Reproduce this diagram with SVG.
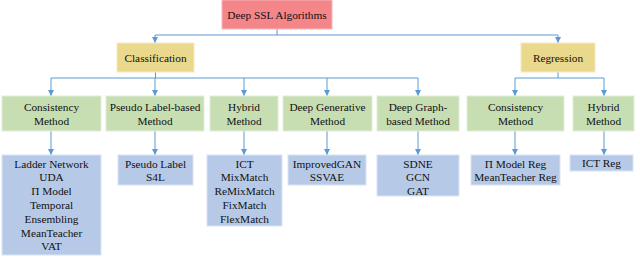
<svg xmlns="http://www.w3.org/2000/svg" width="640" height="258" viewBox="0 0 640 258">
<defs>
<marker id="ah" viewBox="0 0 6 6" refX="6" refY="3" markerWidth="6" markerHeight="6" markerUnits="userSpaceOnUse" orient="auto">
<path d="M0,0 L6,3 L0,6 z" fill="#5B9BD5"/>
</marker>
</defs>
<style>
text{font-family:"Liberation Serif","Times New Roman",serif;font-size:11.3px;fill:#111;text-anchor:middle}
.root{fill:#F4868A;stroke:#F7B7B9;stroke-width:1}
.cat{fill:#EAD98C;stroke:#F3EAC3;stroke-width:1}
.mth{fill:#C7DEB3;stroke:#E2EED8;stroke-width:1}
.alg{fill:#B6CAE8;stroke:#DAE4F3;stroke-width:1}
.ln{fill:none;stroke:#5B9BD5;stroke-width:1}
.ar{fill:none;stroke:#5B9BD5;stroke-width:1;marker-end:url(#ah)}
</style>
<g id="connectors">
<path class="ln" d="M277,29 V35 M155,35 H558"/>
<path class="ar" d="M155,35 V43"/>
<path class="ar" d="M558,35 V43"/>
<path class="ln" d="M155.5,72 V78 M51,78 H418"/>
<path class="ar" d="M51,78 V96"/>
<path class="ar" d="M155,78 V96"/>
<path class="ar" d="M244,78 V96"/>
<path class="ar" d="M327,78 V96"/>
<path class="ar" d="M418,78 V96"/>
<path class="ln" d="M558,72 V78 M515,78 H604"/>
<path class="ar" d="M515,78 V96"/>
<path class="ar" d="M604,78 V96"/>
<path class="ar" d="M51,131 V155"/>
<path class="ar" d="M155,131 V155"/>
<path class="ar" d="M244,131 V155"/>
<path class="ar" d="M327,131 V155"/>
<path class="ar" d="M418,131 V155"/>
<path class="ar" d="M515,131 V155"/>
<path class="ar" d="M604,131 V155"/>
</g>
<g id="root"><rect class="root" x="222" y="0" width="110" height="29"/><text x="277" y="19">Deep SSL Algorithms</text></g>
<g id="classification"><rect class="cat" x="117" y="43" width="77" height="29"/><text x="155.5" y="61.5">Classification</text></g>
<g id="regression"><rect class="cat" x="521" y="43" width="74" height="29"/><text x="558" y="61.5">Regression</text></g>

<g id="m-consistency"><rect class="mth" x="2" y="96" width="99" height="35"/><text x="51.5" y="111">Consistency</text><text x="51.5" y="124.5">Method</text></g>
<g id="m-pseudo"><rect class="mth" x="106" y="96" width="98" height="35"/><text x="155" y="111">Pseudo Label-based</text><text x="155" y="124.5">Method</text></g>
<g id="m-hybrid"><rect class="mth" x="210" y="96" width="68" height="35"/><text x="244" y="111">Hybrid</text><text x="244" y="124.5">Method</text></g>
<g id="m-generative"><rect class="mth" x="283" y="96" width="89" height="35"/><text x="327.5" y="111">Deep Generative</text><text x="327.5" y="124.5">Method</text></g>
<g id="m-graph"><rect class="mth" x="377" y="96" width="82" height="35"/><text x="418" y="111">Deep Graph-</text><text x="418" y="124.5">based Method</text></g>
<g id="m-reg-consistency"><rect class="mth" x="467" y="96" width="97" height="35"/><text x="515.5" y="111">Consistency</text><text x="515.5" y="124.5">Method</text></g>
<g id="m-reg-hybrid"><rect class="mth" x="573" y="96" width="61" height="35"/><text x="603.5" y="111">Hybrid</text><text x="603.5" y="124.5">Method</text></g>

<g id="a-consistency"><rect class="alg" x="2" y="155" width="99" height="100"/>
<text x="51.5" y="167.5">Ladder Network</text><text x="51.5" y="181.3">UDA</text><text x="51.5" y="195.1">Π Model</text><text x="51.5" y="208.9">Temporal</text><text x="51.5" y="222.7">Ensembling</text><text x="51.5" y="236.5">MeanTeacher</text><text x="51.5" y="250.3">VAT</text></g>
<g id="a-pseudo"><rect class="alg" x="118" y="155" width="75" height="30"/><text x="155.5" y="167.5">Pseudo Label</text><text x="155.5" y="181.3">S4L</text></g>
<g id="a-hybrid"><rect class="alg" x="207" y="155" width="75" height="71"/>
<text x="244.5" y="167.5">ICT</text><text x="244.5" y="181.3">MixMatch</text><text x="244.5" y="195.1">ReMixMatch</text><text x="244.5" y="208.9">FixMatch</text><text x="244.5" y="222.7">FlexMatch</text></g>
<g id="a-generative"><rect class="alg" x="288" y="155" width="78" height="30"/><text x="327" y="167.5">ImprovedGAN</text><text x="327" y="181.3">SSVAE</text></g>
<g id="a-graph"><rect class="alg" x="377" y="155" width="82" height="41"/><text x="418" y="167.5">SDNE</text><text x="418" y="181.3">GCN</text><text x="418" y="195.1">GAT</text></g>
<g id="a-reg-consistency"><rect class="alg" x="471" y="155" width="89" height="30"/><text x="515.5" y="167.5">Π Model Reg</text><text x="515.5" y="181.3">MeanTeacher Reg</text></g>
<g id="a-reg-hybrid"><rect class="alg" x="570" y="155" width="63" height="16"/><text x="601.5" y="167">ICT Reg</text></g>
</svg>
